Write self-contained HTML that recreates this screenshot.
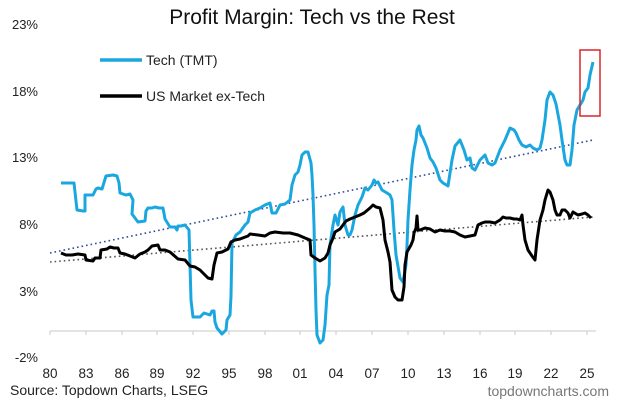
<!DOCTYPE html>
<html><head><meta charset="utf-8"><style>
body{margin:0;background:#fff}
svg{display:block;font-family:"Liberation Sans",Arial,sans-serif}
</style></head><body>
<svg width="624" height="401" viewBox="0 0 624 401" xmlns="http://www.w3.org/2000/svg">
<rect width="624" height="401" fill="#fff"/>
<text x="312" y="24" font-size="21" text-anchor="middle" fill="#111">Profit Margin: Tech vs the Rest</text>
<g font-size="13" fill="#222" text-anchor="end">
<text x="38" y="29">23%</text>
<text x="38" y="96">18%</text>
<text x="38" y="162">13%</text>
<text x="38" y="229">8%</text>
<text x="38" y="296">3%</text>
<text x="38" y="362">-2%</text>
</g>
<line x1="50" y1="331" x2="596" y2="331" stroke="#d4d4d4" stroke-width="1.2"/>
<g stroke="#c8c8c8" stroke-width="1">
<line x1="50" y1="331" x2="50" y2="335"/><line x1="86" y1="331" x2="86" y2="335"/><line x1="122" y1="331" x2="122" y2="335"/><line x1="157" y1="331" x2="157" y2="335"/><line x1="193" y1="331" x2="193" y2="335"/><line x1="229" y1="331" x2="229" y2="335"/><line x1="265" y1="331" x2="265" y2="335"/><line x1="300" y1="331" x2="300" y2="335"/><line x1="336" y1="331" x2="336" y2="335"/><line x1="372" y1="331" x2="372" y2="335"/><line x1="408" y1="331" x2="408" y2="335"/><line x1="444" y1="331" x2="444" y2="335"/><line x1="480" y1="331" x2="480" y2="335"/><line x1="515" y1="331" x2="515" y2="335"/><line x1="551" y1="331" x2="551" y2="335"/><line x1="587" y1="331" x2="587" y2="335"/>
</g>
<g font-size="13.5" fill="#222" text-anchor="middle">
<text x="50" y="378">80</text><text x="86" y="378">83</text><text x="122" y="378">86</text><text x="157" y="378">89</text><text x="193" y="378">92</text><text x="229" y="378">95</text><text x="265" y="378">98</text><text x="300" y="378">01</text><text x="336" y="378">04</text><text x="372" y="378">07</text><text x="408" y="378">10</text><text x="444" y="378">13</text><text x="480" y="378">16</text><text x="515" y="378">19</text><text x="551" y="378">22</text><text x="587" y="378">25</text>
</g>
<text x="10" y="395" font-size="14" fill="#222">Source: Topdown Charts, LSEG</text>
<text x="609" y="396" font-size="14" fill="#777" text-anchor="end">topdowncharts.com</text>
<line x1="50" y1="253" x2="593" y2="140" stroke="#2f4a9a" stroke-width="1.6" stroke-dasharray="1.6 3"/>
<line x1="50" y1="262" x2="593" y2="217" stroke="#555" stroke-width="1.6" stroke-dasharray="1.6 3"/>
<polyline fill="none" stroke="#1aa7e0" stroke-width="3" stroke-linejoin="round" points="61,183 72,183 74,183 77,210 83,211 85,211 85,195 93,195 96,189 98,188 102,189 106,176 113,175 117,176 119,183 120,193 126,195 130,194 133,200 132,214 138,222 145,221 146,211 148,208 152,208 155,207 159,208 163,208 165,219 170,227 175,227 177,230 178,226 181,226 185,225 189,230 191,300 193,317 200,317 204,313 210,315 212,311 214,311 215,322 217,328 222,334 226,330 227,320 230,315 231,296 232,243 236,235 240,232 245,225 248,222 250,213 255,210 260,208 265,205 270,203 272,213 276,213 280,205 285,204 290,200 292,185 295,175 298,172 300,165 302,155 305,152 308,152 311,163 312,175 313,195 314,225 315,270 316,310 317,335 320,343 323,340 325,325 327,295 329,285 330,245 333,225 335,215 338,225 340,212 343,207 345,225 348,235 350,235 352,230 355,215 358,205 362,197 365,188 368,190 372,185 374,180 376,183 378,182 382,190 387,193 390,195 392,200 394,230 396,255 400,278 403,282 406,265 407,245 408,220 410,190 412,165 414,150 416,140 417,130 419,126 421,135 423,138 427,148 430,158 433,162 436,168 440,180 443,183 448,186 450,173 452,160 455,146 460,140 464,150 467,160 470,158 472,168 475,170 480,160 485,155 488,163 492,165 495,163 500,150 505,140 510,128 514,130 516,133 519,140 522,145 526,147 530,145 533,148 537,150 540,148 542,140 545,120 547,100 550,92 553,95 556,104 560,125 562,140 565,160 567,165 570,165 572,150 574,125 577,110 580,105 583,100 585,92 588,88 590,75 593,62"/>
<polyline fill="none" stroke="#000" stroke-width="3" stroke-linejoin="round" points="61,253 66,255 72,255 78,254 85,255 86,260 93,261 95,258 100,258 101,250 107,249 110,247 114,248 118,248 120,253 125,254 130,256 135,258 140,254 145,252 148,250 152,246 158,245 160,250 165,250 170,252 178,259 185,260 190,266 195,267 200,270 205,275 208,278 212,279 214,265 217,253 222,252 228,249 231,242 235,240 240,239 248,236 250,234 258,235 265,236 270,233 275,232 283,233 290,233 298,235 305,238 310,240 311,255 315,258 320,261 325,258 328,253 330,245 333,238 335,232 340,229 343,225 346,221 350,219 355,217 360,215 364,213 370,208 373,205 376,207 380,208 383,220 385,240 388,252 390,262 392,290 395,297 398,300 402,300 404,287 405,265 407,252 411,245 413,240 414,233 416,228 417,216 418,230 420,230 425,228 430,229 435,232 440,230 445,231 450,231 455,232 460,235 465,237 470,236 475,235 478,225 482,223 485,222 490,222 495,223 500,220 503,217 506,218 510,218 514,219 517,219 520,220 522,215 523,225 525,240 528,250 532,256 535,260 537,240 540,220 543,210 545,200 548,190 550,192 553,200 555,210 557,215 560,215 562,210 565,210 568,213 570,218 573,212 578,215 582,214 585,213 588,215 591,218"/>
<rect x="580" y="50" width="20" height="66" fill="none" stroke="#d9262b" stroke-width="1.5"/>
<line x1="100" y1="60" x2="142" y2="60" stroke="#1aa7e0" stroke-width="3.5"/>
<text x="146" y="65" font-size="14" fill="#222">Tech (TMT)</text>
<line x1="100" y1="96" x2="142" y2="96" stroke="#000" stroke-width="3.5"/>
<text x="146" y="101" font-size="14" fill="#222">US Market ex-Tech</text>
</svg>
</body></html>
